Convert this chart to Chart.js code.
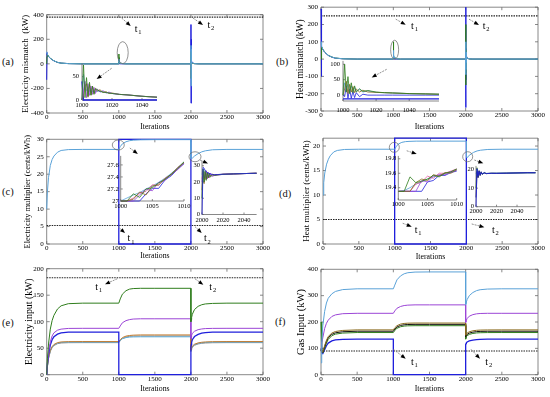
<!DOCTYPE html>
<html><head><meta charset="utf-8">
<script src="https://cdn.jsdelivr.net/npm/chart.js@4.4.0/dist/chart.umd.min.js"></script>
<style>
html,body{margin:0;padding:0;background:#fff;width:550px;height:397px;overflow:hidden;position:relative;}
.pl{position:absolute;font-family:'Liberation Serif','Times New Roman',serif;font-size:10.5px;font-weight:400;line-height:13px;color:#111;}
</style></head><body>
<div class="pl" style="left:2px;top:55px">(a)</div>
<div class="pl" style="left:276px;top:55px">(b)</div>
<div class="pl" style="left:2px;top:185px">(c)</div>
<div class="pl" style="left:279px;top:187px">(d)</div>
<div class="pl" style="left:2px;top:316px">(e)</div>
<div class="pl" style="left:275px;top:315px">(f)</div>
<script>
// ---------------- DATA ----------------
const X_REF = [0, 3000];
// (a) Electricity mismatch
const X_AB = [0,5,10,25,50,100,150,200,300,500,1000,1001,1002,1003,1005,1010,1020,1050,1100,2000,2001,2002,2003,2004,2006,2008,2010,2020,2050,2100,3000];
const A_steel = [100,85,78,62,45,25,12,6,2,0, 0,20,40,15,25,12,6,2,0,0, 150,-180,120,-90,60,-30,20,8,2,0,0];
const A_green = [0,60,78,62,45,25,12,6,2,0, 0,80,5,50,20,10,5,2,0,0, 100,-120,80,-60,30,-20,10,5,1,0,0];
const A_blue  = [-130,90,75,60,44,24,12,6,2,0, 0,10,5,2,3,1,0,0,0,0, 320,-320,200,-150,90,-50,25,8,2,0,0];
const A_ref = [380, 380];
// (b) Heat mismatch
const B_steel = [100,85,75,58,42,22,12,6,2,0, 0,30,50,20,25,12,6,2,0,0, 100,-90,70,-60,40,-20,12,5,2,0,0];
const B_green = [0,60,72,57,41,22,12,6,2,0, 0,100,10,60,20,10,5,2,0,0, 200,-150,100,-80,50,-30,15,5,1,0,0];
const B_blue  = [290,-100,70,56,40,21,11,5,2,0, 0,15,5,10,3,2,0,0,0,0, 300,-280,150,-120,60,-40,20,5,1,0,0];
const B_ref = [250, 250];
// (c),(d),(e),(f) shared iteration grid
const X_CD = [0,10,25,50,75,100,150,200,300,500,1000,1000,1020,1050,1100,1150,1200,1300,1500,2000,2000,2005,2010,2020,2050,2100,2150,2200,2300,2500,3000];
const C_main = [10,15,19,22.5,24.2,25.2,26.3,26.8,27.05,27.1, 27.1,27.1,27.9,28.7,29.3,29.6,29.75,29.85,29.9,29.9, 24.5,24.4,24.4,24.6,25.2,25.9,26.4,26.7,27,27.1,27.1];
const X_RECT = [1000,1000,2000,2000,1000,1000];
const C_rect = [27.1,30,30,0,0,27.1];
const C_ref = [5.3, 5.3];
const D_main = [10,12.5,14.5,16.3,17.3,18,18.8,19.1,19.3,19.35, 19.35,19.35,19.85,20.4,20.75,20.9,20.95,21,21,21, 17.8,17.7,17.7,17.8,18.2,18.7,19.0,19.15,19.3,19.35,19.35];
const D_rect = [19.35,21.6,21.6,0,0,19.35];
const D_ref = [5, 5];
const E_green  = [0,30,58,86,102,112,124,130,134,135, 135,135,143,152,158.5,161.5,162.5,163,163,163, 100,104,108,114,123,129,132,133.5,134.5,135,135];
const E_purple = [0,22,42,62,73,79,84,86,87.3,87.5, 87.5,87.5,92,98,102,104,105,105.5,105.5,105.5, 68,71,74,78,82,85,86.3,87,87.4,87.5,87.5];
const E_blue   = [0,20,38,56,66,71.5,76.5,78.8,80.2,80.5, 80.5,0,0,0,0,0,0,0,0,0, 52,57,61,66,72,76,78.3,79.3,80.2,80.5,80.5];
const E_orange = [0,16,32,46,53,57,60.5,61.8,62.4,62.5, 62.5,62.5,66,70,72.8,74,74.6,75,75,75, 46,48.5,51,54,57.5,60,61.2,61.8,62.3,62.5,62.5];
const E_grey   = [0,15,30,44,51,55,58.5,59.8,60.4,60.5, 60.5,60.5,64,68,71,72.3,72.8,73,73,73, 44,46.5,49,52,55.5,58,59.2,59.8,60.3,60.5,60.5];
const E_cyan   = [0,15,31,45,52,56,59.5,60.8,61.4,61.5, 61.5,61.5,64.5,68,70,71,71.3,71.5,71.5,71.5, 45,47.5,50,53,56.5,59,60.2,60.8,61.3,61.5,61.5];
const E_ref = [183, 183];
const F_cyan   = [45,120,185,240,272,290,307,316,323,326, 326,326,340,360,375,383,387,389.5,390,390, 265,270,276,285,300,312,319,322.5,325,326,326];
const F_purple = [100,120,140,175,195,207,221,227,231.5,233, 233,233,242,252,259,262.5,264,265,265,265, 198,202,207,213,222,228,231,232.3,233,233,233];
const F_olive  = [95,88,86,110,130,145,158,164,168,170, 170,170,178,186,192,194.5,195.5,196,196,196, 150,152,155,158,163,166.5,168.5,169.3,169.8,170,170];
const F_black  = [92,86,84,106,126,140,153,159,163,165, 165,165,173,181,187,189.5,190.5,191,191,191, 145,147,150,153,158,161.5,163.5,164.3,164.8,165,165];
const F_green  = [200,90,82,100,120,134,148,154,158,160, 160,160,168,176,182,184.5,185.5,186,186,186, 135,140,144,148,153,156.5,158.5,159.3,159.8,160,160];
const F_blue   = [100,85,80,95,110,120,128,132,134,135, 135,0,0,0,0,0,0,0,0,0, 115,118,121,124,128,131,133,134,134.8,135,135];
const F_ref = [90, 90];
// insets
const X_IA = [1000,1001,1002,1003,1004,1005,1006,1007,1008,1009,1010,1012,1014,1016,1018,1020,1025,1030,1040,1050];
const IA_green  = [0,75,5,48,8,38,10,30,12,25,22,19,17,16,15,14,12,11,8,6];
const IA_purple = [0,20,40,5,35,10,30,12,27,14,24,17,20,15,17,14,12,11,8,6];
const IA_olive  = [0,10,30,35,6,33,11,29,14,24,19,22,16,18,14,15,12,11,8,6];
const IA_steel  = [0,55,25,20,28,18,25,17,22,17,19,18,17,16,15,14,12,11,8,6];
const IA_blue   = [40,0,0,0,0,0,0,0,0,0,0,0,0,0,0,0,0,0,0,0];
const X_IB = [1000,1001,1002,1003,1004,1005,1006,1007,1008,1010,1012,1015,1020,1025,1030,1040,1050,1058];
const IB_green = [0,100,10,60,5,40,8,30,10,20,12,15,10,8,7,5,4,3];
const IB_steel = [0,40,20,35,10,30,15,25,12,20,10,14,9,8,7,5,4,3];
const IB_olive = [0,20,45,5,35,10,28,8,20,10,16,10,9,8,7,5,4,3];
const IB_blue  = [0,-5,30,-10,20,-10,12,-8,8,-5,3,0,0,0,0,0,0,0];
const X_IB2 = [1000, 1058];
const IB_navy = [-12, -12];
const X_I10 = [1000,1001,1002,1003,1004,1005,1006,1007,1008,1009,1010];
const IC1_green  = [27.0,27.0,27.12,27.06,27.2,27.22,27.3,27.36,27.45,27.55,27.65];
const IC1_olive  = [27.0,27.0,27.03,27.15,27.1,27.25,27.27,27.37,27.44,27.54,27.64];
const IC1_purple = [27.0,27.0,27.0,27.1,27.2,27.17,27.31,27.34,27.45,27.52,27.63];
const IC1_blue   = [27.0,27.0,27.0,27.0,27.12,27.21,27.21,27.35,27.42,27.53,27.62];
const IC1_steel  = [27.0,27.05,27.1,27.14,27.2,27.25,27.31,27.38,27.46,27.55,27.65];
const IC1_pink   = [27.0,27.0,27.05,27.13,27.16,27.27,27.26,27.38,27.44,27.56,27.63];
const X_IC2 = [2000,2001,2002,2003,2004,2005,2006,2007,2008,2010,2012,2015,2020,2030,2040,2052];
const IC2_blue   = [0,29,28.5,27,26.5,26,25.5,25.2,25,24.6,24.5,24.6,24.8,25,25.2,25.4];
const IC2_green  = [10,28,20,27,21,26,22.5,25.5,23,24.5,24,24.4,24.7,25,25.2,25.4];
const IC2_purple = [20,27,25,22.5,27,22,26,23,25.5,23.5,24.2,24.3,24.7,25,25.2,25.4];
const IC2_olive  = [15,26.5,19,26,22,25.5,23,24.5,24,24.8,24.4,24.5,24.8,25,25.2,25.4];
const IC2_steel  = [24.5,28,26,25.2,24.7,24.3,24.2,24.3,24.4,24.5,24.6,24.6,24.8,25,25.2,25.4];
const IC2_pink   = [22,26,24,21.5,25,22,24.5,22.5,24,23.8,24.3,24.5,24.8,25,25.2,25.4];
const ID1_green  = [19.35,19.35,19.55,19.47,19.49,19.52,19.57,19.55,19.6,19.62,19.66];
const ID1_olive  = [19.35,19.35,19.35,19.47,19.52,19.5,19.58,19.56,19.61,19.6,19.65];
const ID1_purple = [19.35,19.35,19.35,19.35,19.5,19.48,19.56,19.58,19.58,19.62,19.64];
const ID1_blue   = [19.35,19.35,19.35,19.35,19.35,19.48,19.5,19.57,19.57,19.61,19.63];
const ID1_pink   = [19.35,19.35,19.35,19.45,19.48,19.56,19.53,19.6,19.6,19.63,19.66];
const ID1_steel  = [19.35,19.36,19.4,19.45,19.48,19.52,19.55,19.57,19.6,19.62,19.65];
const X_ID2 = [2000,2001,2002,2003,2004,2005,2006,2008,2010,2015,2020,2030,2040,2050,2058];
const ID2_blue  = [0,20.5,16.5,19,17.3,18.5,17.7,18.2,17.9,18,18,18.1,18.2,18.3,18.3];
const ID2_steel = [17.8,19,17.5,18.5,17.8,18.3,17.9,18.1,18,18,18.1,18.1,18.2,18.3,18.3];
const ID2_green = [10,21,16,19.3,17,18.7,17.5,18.2,17.9,18,18,18.1,18.2,18.3,18.3];
const ID2_navy  = [5,19,15.5,19.5,16.7,18.9,17.4,18.4,17.8,18.1,18,18.1,18.2,18.3,18.3];

// ---------------- RENDERING ----------------
const SERIF = "'Liberation Serif','Times New Roman',serif";
const COL = {steel:'#5aa2d8', blue:'#1f1fdc', green:'#2f7d1c', purple:'#9b45d6', olive:'#8a6a1c',
  orange:'#c07a2e', grey:'#8e8e8e', pink:'#e05aa0', navy:'#1a1a70', cyan:'#5aaad8', black:'#111'};

function pts(xs, ys){ return xs.map((x,i)=>({x:x, y:ys[i]})); }
function ln(xs, ys, color, extra){
  return Object.assign({data:pts(xs,ys), borderColor:color, borderWidth:1, pointRadius:0, fill:false, tension:0, clip:3}, extra||{});
}
function dotted(xs, ys){ return ln(xs, ys, '#222', {borderDash:[1.5,1], borderWidth:1.1}); }
function keepInRange(s){ s.ticks = s.ticks.filter(t => t.value >= s.min - 1e-9 && t.value <= s.max + 1e-9); }

const deco = {
  id:'deco',
  beforeDatasetsDraw(chart, args, o){
    const {ctx, chartArea:a} = chart; const sx = chart.scales.x, sy = chart.scales.y;
    ctx.save();
    ctx.strokeStyle = '#6a6a6a'; ctx.lineWidth = 0.8;
    ctx.beginPath();
    if (o.full) ctx.rect(a.left, a.top, a.right-a.left, a.bottom-a.top);
    else { ctx.moveTo(a.left, a.top); ctx.lineTo(a.left, a.bottom); ctx.lineTo(a.right, a.bottom); }
    ctx.stroke();
    const L = o.full ? 3 : 2;
    ctx.beginPath();
    sx.ticks.forEach(t=>{ const p = sx.getPixelForValue(t.value);
      ctx.moveTo(p, a.bottom); ctx.lineTo(p, a.bottom-L);
      if (o.full){ ctx.moveTo(p, a.top); ctx.lineTo(p, a.top+L); } });
    sy.ticks.forEach(t=>{ const p = sy.getPixelForValue(t.value);
      ctx.moveTo(a.left, p); ctx.lineTo(a.left+L, p);
      if (o.full){ ctx.moveTo(a.right, p); ctx.lineTo(a.right-L, p); } });
    ctx.stroke();
    ctx.restore();
  },
  afterDatasetsDraw(chart, args, o){
    const {ctx} = chart; const sx = chart.scales.x, sy = chart.scales.y;
    ctx.save();
    (o.notes||[]).forEach(n=>{
      if (n.t === 'text'){
        const px = sx.getPixelForValue(n.x), py = sy.getPixelForValue(n.y);
        ctx.fillStyle = '#000'; ctx.textAlign = 'center'; ctx.textBaseline = 'middle';
        ctx.font = '10px ' + SERIF; ctx.fillText(n.s, px, py);
        ctx.font = '6.5px ' + SERIF; ctx.fillText(n.sub, px+3.8, py+3.5);
      } else if (n.t === 'arrow'){
        const x1 = sx.getPixelForValue(n.x1), y1 = sy.getPixelForValue(n.y1);
        const x2 = sx.getPixelForValue(n.x2), y2 = sy.getPixelForValue(n.y2);
        const ang = Math.atan2(y2-y1, x2-x1);
        ctx.strokeStyle = '#777'; ctx.lineWidth = 0.8; ctx.setLineDash([2,1]);
        ctx.beginPath(); ctx.moveTo(x1,y1); ctx.lineTo(x2 - 3*Math.cos(ang), y2 - 3*Math.sin(ang)); ctx.stroke();
        ctx.setLineDash([]);
        ctx.fillStyle = '#000'; ctx.beginPath();
        ctx.moveTo(x2, y2);
        ctx.lineTo(x2 - 5*Math.cos(ang) + 2*Math.sin(ang), y2 - 5*Math.sin(ang) - 2*Math.cos(ang));
        ctx.lineTo(x2 - 5*Math.cos(ang) - 2*Math.sin(ang), y2 - 5*Math.sin(ang) + 2*Math.cos(ang));
        ctx.closePath(); ctx.fill();
      } else if (n.t === 'ell'){
        const px = sx.getPixelForValue(n.x), py = sy.getPixelForValue(n.y);
        ctx.strokeStyle = '#666'; ctx.lineWidth = 0.7; ctx.beginPath();
        ctx.ellipse(px, py, n.rx, n.ry, 0, 0, Math.PI*2); ctx.stroke();
      }
    });
    ctx.restore();
  }
};

function make(B, X, Y, datasets, O){
  const cv = document.createElement('canvas');
  const W = B.cr - B.cl, H = B.cb - B.ct;
  cv.width = W; cv.height = H;
  cv.style.cssText = 'position:absolute;left:'+B.cl+'px;top:'+B.ct+'px;width:'+W+'px;height:'+H+'px;';
  document.body.appendChild(cv);
  const tf = {family:SERIF, size:O.tick || 7};
  const yts = O.yts || 9, xts = 7.8;
  new Chart(cv, {
    type:'line',
    data:{datasets:datasets},
    options:{
      responsive:false, animation:false, events:[], devicePixelRatio:1,
      layout:{padding:{left:0, bottom:0, top:B.t - B.ct, right:B.cr - B.r}},
      plugins:{legend:{display:false}, tooltip:{enabled:false},
        deco:{full:!!O.full, notes:O.notes || []}},
      scales:{
        x:{type:'linear', min:X.min, max:X.max, afterFit:s=>{ s.height = B.cb - B.b; }, afterBuildTicks:keepInRange,
          ticks:{stepSize:X.step, autoSkip:false, maxRotation:0, minRotation:0, includeBounds:false,
            font:tf, color:'#000', padding:(O.xpad!==undefined?O.xpad:0), callback:v=>String(v)},
          grid:{display:false, drawTicks:false}, border:{display:false},
          title: O.xTitle ? {display:true, text:O.xTitle, color:'#000', font:{family:SERIF, size:xts},
            padding:{top:0, bottom:Math.max(0,(B.cb - O.xTitleY) - xts*0.6)}} : {display:false}},
        y:{type:'linear', min:Y.min, max:Y.max, afterFit:s=>{ s.width = B.l - B.cl; }, afterBuildTicks:keepInRange,
          ticks:{stepSize:Y.step, autoSkip:false, includeBounds:false, font:tf, color:'#000',
            padding:(O.ypad!==undefined?O.ypad:3), callback:v=>String(Number(v.toFixed(2)))},
          grid:{display:false, drawTicks:false}, border:{display:false},
          title: O.yTitle ? {display:true, text:O.yTitle, color:'#000', font:{family:SERIF, size:yts},
            padding:{top:Math.max(0,(O.yTitleX - B.cl) - yts*0.6), bottom:0}} : {display:false}}
      }
    },
    plugins:[deco]
  });
}

const XMAIN = {min:0, max:3000, step:500};

// (a)
make({cl:0,ct:0,cr:275,cb:133,l:46.7,t:14.7,r:263,b:113}, XMAIN, {min:-400,max:400,step:200},
  [ln(X_AB,A_steel,COL.steel), ln(X_AB,A_green,COL.green), ln(X_AB,A_blue,COL.blue), dotted(X_REF,A_ref)],
  {full:true, yTitle:'Electricity mismatch  (kW)', yTitleX:25.7, yts:9, xTitle:'Iterations', xTitleY:127.3,
   notes:[{t:'arrow',x1:1040,y1:373,x2:1165,y2:308},{t:'text',x:1240,y:284,s:'t',sub:'1'},
          {t:'arrow',x1:2029,y1:373,x2:2168,y2:316},{t:'text',x:2250,y:316,s:'t',sub:'2'},
          {t:'ell',x:1054,y:91,rx:5.5,ry:11},{t:'arrow',x1:901,y1:-36,x2:693,y2:-123}]});
// (b)
make({cl:275,ct:0,cr:550,cb:133,l:321,t:4.7,r:538,b:111}, XMAIN, {min:-300,max:300,step:100},
  [ln(X_AB,B_steel,COL.steel), ln(X_AB,B_green,COL.green), ln(X_AB,B_blue,COL.blue), dotted(X_REF,B_ref)],
  {full:true, yTitle:'Heat mismatch (kW)', yTitleX:300, yts:9.5, xTitle:'Iterations', xTitleY:126.7,
   notes:[{t:'arrow',x1:1033,y1:231,x2:1171,y2:198},{t:'text',x:1265,y:191,s:'t',sub:'1'},
          {t:'arrow',x1:2046,y1:231,x2:2184,y2:197},{t:'text',x:2255,y:191,s:'t',sub:'2'},
          {t:'ell',x:1018,y:54,rx:4,ry:9.5},{t:'arrow',x1:908,y1:-59,x2:701,y2:-106}]});
// (c)
make({cl:0,ct:126,cr:275,cb:264,l:46.7,t:139.3,r:263,b:244}, XMAIN, {min:0,max:30,step:5},
  [ln(X_CD,C_main,COL.steel), ln(X_RECT,C_rect,COL.blue,{borderWidth:1.3}), dotted(X_REF,C_ref)],
  {full:true, yTitle:'Electricity multiplier (cents/kWh)', yTitleX:28, yts:8.4, xTitle:'Iterations', xTitleY:256,
   notes:[{t:'arrow',x1:989,y1:4.96,x2:1086,y2:3.15},{t:'text',x:1141,y:1.6,s:'t',sub:'1'},
          {t:'arrow',x1:2057,y1:4.96,x2:2150,y2:3.15},{t:'text',x:2200,y:1.6,s:'t',sub:'2'},
          {t:'ell',x:993,y:28.37,rx:6,ry:5},{t:'arrow',x1:1153,y1:27.5,x2:1264,y2:25.8},
          {t:'ell',x:2057,y:25.0,rx:6,ry:5},{t:'arrow',x1:2126,y1:24.07,x2:2237,y2:23.07}]});
// (d)
make({cl:275,ct:126,cr:550,cb:264,l:323,t:138.2,r:538,b:244}, XMAIN, {min:0,max:21.6,step:5},
  [ln(X_CD,D_main,COL.steel), ln(X_RECT,D_rect,COL.blue,{borderWidth:1.3}), dotted(X_REF,D_ref)],
  {full:true, yTitle:'Heat multiplier (cents/kWh)', yTitleX:307, yts:9, xTitle:'Iterations', xTitleY:256.7,
   notes:[{t:'arrow',x1:1112,y1:4.23,x2:1238,y2:3.54},{t:'text',x:1298,y:2.87,s:'t',sub:'1'},
          {t:'arrow',x1:2075,y1:4.09,x2:2251,y2:3.42},{t:'text',x:2376,y:2.87,s:'t',sub:'2'},
          {t:'ell',x:995,y:19.74,rx:5,ry:5},{t:'arrow',x1:1168,y1:19.04,x2:1307,y2:18.37},
          {t:'ell',x:2019,y:17.82,rx:5,ry:5},{t:'arrow',x1:2111,y1:17.15,x2:2237,y2:16.48}]});
// (e)
make({cl:0,ct:258,cr:275,cb:397,l:46.7,t:268.7,r:263,b:374.7}, XMAIN, {min:0,max:200,step:50},
  [ln(X_CD,E_green,COL.green), ln(X_CD,E_purple,COL.purple), ln(X_CD,E_blue,COL.blue,{borderWidth:1.3}),
   ln(X_CD,E_orange,COL.orange), ln(X_CD,E_cyan,COL.cyan), ln(X_CD,E_grey,COL.grey), dotted(X_REF,E_ref)],
  {full:true, yTitle:'Electricity input (kW)', yTitleX:29, yts:9.8, xTitle:'Iterations', xTitleY:388.7,
   notes:[{t:'arrow',x1:979,y1:181,x2:809,y2:170.6},{t:'text',x:693,y:165.5,s:'t',sub:'1'},
          {t:'arrow',x1:2057,y1:181,x2:2172,y2:169.8},{t:'text',x:2275,y:165.5,s:'t',sub:'2'}]});
// (f)
make({cl:275,ct:258,cr:550,cb:397,l:321,t:269.3,r:538,b:374.7}, XMAIN, {min:0,max:400,step:100},
  [ln(X_CD,F_cyan,COL.steel), ln(X_CD,F_purple,COL.purple), ln(X_CD,F_olive,COL.olive),
   ln(X_CD,F_black,COL.black), ln(X_CD,F_green,COL.green), ln(X_CD,F_blue,COL.blue,{borderWidth:1.3}), dotted(X_REF,F_ref)],
  {full:true, yTitle:'Gas Input (kW)', yTitleX:301.7, yts:10.5, xTitle:'Iterations', xTitleY:388.7,
   notes:[{t:'arrow',x1:1000,y1:96.4,x2:1171,y2:60.7},{t:'text',x:1262,y:48.2,s:'t',sub:'1'},
          {t:'arrow',x1:2074,y1:96.4,x2:2198,y2:60.7},{t:'text',x:2291,y:48.2,s:'t',sub:'2'}]});

// insets
const thin = {borderWidth:0.8};
make({cl:60,ct:56,cr:163,cb:112,l:82,t:63.6,r:157,b:100}, {min:1000,max:1050,step:20}, {min:0,max:78,step:50},
  [ln(X_IA,IA_green,COL.green,thin), ln(X_IA,IA_purple,COL.purple,thin), ln(X_IA,IA_olive,COL.olive,thin),
   ln(X_IA,IA_steel,COL.steel,thin), ln(X_IA,IA_blue,COL.blue,{borderWidth:1.3})],
  {tick:6.5, xpad:1.8, ypad:3});
make({cl:322,ct:54,cr:445,cb:118,l:343,t:60,r:439,b:101}, {min:1000,max:1058,step:20}, {min:-19,max:111,step:50},
  [ln(X_IB,IB_green,COL.green,thin), ln(X_IB,IB_olive,COL.olive,thin), ln(X_IB,IB_steel,COL.steel,thin),
   ln(X_IB,IB_blue,COL.blue,thin), ln(X_IB2,IB_navy,COL.blue,{borderWidth:1.2})],
  {tick:6.5, xpad:5, ypad:3});
make({cl:100,ct:150,cr:192,cb:213,l:120.7,t:155.1,r:184,b:201}, {min:1000,max:1010,step:5}, {min:27,max:27.75,step:0.2},
  [ln(X_I10,IC1_green,COL.green,thin), ln(X_I10,IC1_olive,COL.olive,thin), ln(X_I10,IC1_purple,COL.purple,thin),
   ln(X_I10,IC1_blue,COL.blue,thin), ln(X_I10,IC1_pink,COL.pink,thin), ln(X_I10,IC1_steel,COL.steel,thin)],
  {tick:6.5, xpad:1.2, ypad:2});
make({cl:185,ct:155,cr:262,cb:226,l:202,t:160,r:256.6,b:214.5}, {min:2000,max:2052,step:20}, {min:0,max:33,step:10},
  [ln(X_IC2,IC2_blue,COL.blue,thin), ln(X_IC2,IC2_green,COL.green,thin), ln(X_IC2,IC2_purple,COL.purple,thin),
   ln(X_IC2,IC2_olive,COL.olive,thin), ln(X_IC2,IC2_pink,COL.pink,thin), ln(X_IC2,IC2_steel,COL.steel,thin)],
  {tick:6.5, xpad:1.6, ypad:2});
make({cl:375,ct:150,cr:466,cb:212,l:398.3,t:155,r:456.7,b:200}, {min:1000,max:1010,step:5}, {min:19.23,max:19.84,step:0.2},
  [ln(X_I10,ID1_green,COL.green,thin), ln(X_I10,ID1_olive,COL.olive,thin), ln(X_I10,ID1_purple,COL.purple,thin),
   ln(X_I10,ID1_blue,COL.blue,thin), ln(X_I10,ID1_pink,COL.pink,thin), ln(X_I10,ID1_steel,COL.steel,thin)],
  {tick:6.5, xpad:0.5, ypad:2});
make({cl:458,ct:160,cr:542,cb:218,l:476,t:165.2,r:535.5,b:206.7}, {min:2000,max:2058,step:20}, {min:0,max:22,step:10},
  [ln(X_ID2,ID2_blue,COL.blue,thin), ln(X_ID2,ID2_navy,COL.navy,thin), ln(X_ID2,ID2_green,COL.green,thin),
   ln(X_ID2,ID2_steel,COL.steel,thin)],
  {tick:6.5, xpad:0.5, ypad:2});
</script>
</body></html>
